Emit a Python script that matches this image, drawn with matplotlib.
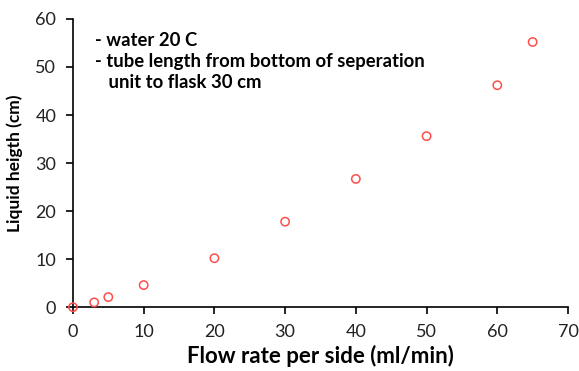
import matplotlib
matplotlib.use("Agg")
import matplotlib.pyplot as plt

plt.rcParams['font.family'] = ['Lato', 'DejaVu Sans']

# Data
flow_rate = [0, 3, 5, 10, 20, 30, 40, 50, 60, 65]
liquid_height = [0, 1.0, 2.1, 4.6, 10.2, 17.8, 26.7, 35.6, 46.2, 55.2]

fig = plt.figure(figsize=(5.79, 3.71), dpi=100)
ax = fig.add_axes([0.126, 0.172, 0.855, 0.777])

ax.scatter(flow_rate, liquid_height, s=36, facecolors='none', edgecolors='#ff4d4d', linewidths=1.1, zorder=3, clip_on=False)

ax.set_xlim(0, 70)
ax.set_ylim(0, 60)
ax.set_xticks(range(0, 71, 10))
ax.set_yticks(range(0, 61, 10))
ax.spines['top'].set_visible(False)
ax.spines['right'].set_visible(False)
for s in ['left', 'bottom']:
    ax.spines[s].set_linewidth(1.2)
ax.tick_params(direction='out', length=5, width=1.2, labelsize=13, pad=7, labelcolor='#222222')

ax.set_xlabel("Flow rate per side (ml/min)", fontsize=16, fontweight='bold', labelpad=4)
ax.set_ylabel("Liquid heigth (cm)", fontsize=12.5, fontweight='bold', labelpad=9)

ax.text(0.045, 0.955, "- water 20 C\n- tube length from bottom of seperation\n   unit to flask 30 cm",
        transform=ax.transAxes, fontsize=13.3, fontweight='bold', va='top', ha='left', linespacing=1.3)

fig.savefig("out.png", dpi=100)
